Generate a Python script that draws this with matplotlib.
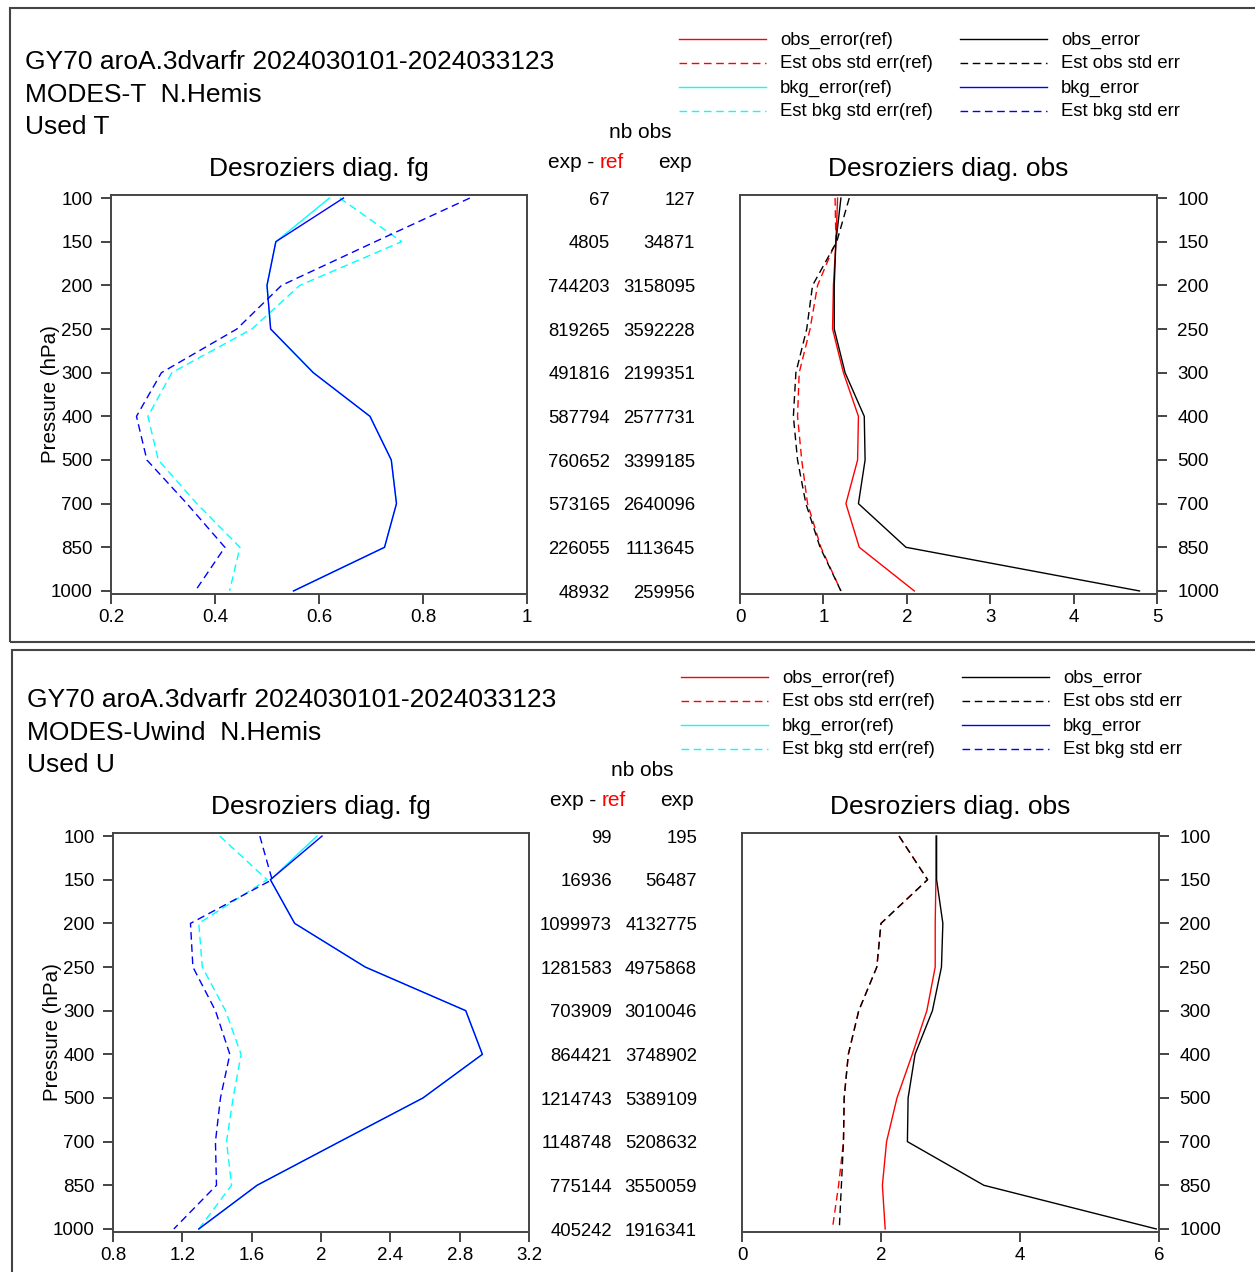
import matplotlib.pyplot as plt
from matplotlib.lines import Line2D
from matplotlib.patches import Rectangle
from matplotlib.transforms import blended_transform_factory

plt.rcParams['font.family'] = ['Liberation Sans', 'DejaVu Sans']

W, H = 1255, 1272
levels = [100, 150, 200, 250, 300, 400, 500, 700, 850, 1000]

# ---- MODES-T (temperature) ----
t_bkg_err_ref = [0.620, 0.517, 0.500, 0.507, 0.589, 0.698, 0.739, 0.749, 0.726, 0.551]
t_bkg_err = [0.647, 0.517, 0.500, 0.507, 0.589, 0.698, 0.739, 0.749, 0.726, 0.551]
t_est_bkg_ref = [0.640, 0.759, 0.563, 0.471, 0.317, 0.271, 0.291, 0.365, 0.448, 0.428]
t_est_bkg = [0.890, 0.708, 0.528, 0.442, 0.297, 0.249, 0.269, 0.346, 0.419, 0.362]
t_obs_err_ref = [1.17, 1.15, 1.12, 1.11, 1.24, 1.42, 1.41, 1.27, 1.43, 2.09]
t_obs_err = [1.21, 1.15, 1.13, 1.13, 1.26, 1.49, 1.50, 1.42, 1.99, 4.79]
t_est_obs_ref = [1.14, 1.15, 0.93, 0.84, 0.71, 0.69, 0.74, 0.81, 0.97, 1.21]
t_est_obs = [1.31, 1.16, 0.87, 0.80, 0.67, 0.64, 0.69, 0.79, 0.96, 1.21]
t_nb_diff = [67, 4805, 744203, 819265, 491816, 587794, 760652, 573165, 226055, 48932]
t_nb_exp = [127, 34871, 3158095, 3592228, 2199351, 2577731, 3399185, 2640096, 1113645, 259956]

# ---- MODES-Uwind ----
u_bkg_err_ref = [1.977, 1.708, 1.848, 2.255, 2.835, 2.931, 2.588, 2.108, 1.631, 1.295]
u_bkg_err = [2.006, 1.708, 1.848, 2.255, 2.835, 2.931, 2.588, 2.108, 1.631, 1.295]
u_est_bkg_ref = [1.416, 1.689, 1.295, 1.315, 1.449, 1.539, 1.493, 1.455, 1.484, 1.295]
u_est_bkg = [1.647, 1.718, 1.247, 1.261, 1.391, 1.474, 1.420, 1.391, 1.397, 1.151]
u_obs_err_ref = [2.79, 2.79, 2.78, 2.78, 2.66, 2.45, 2.23, 2.08, 2.02, 2.06]
u_obs_err = [2.80, 2.80, 2.89, 2.87, 2.74, 2.49, 2.39, 2.38, 3.48, 5.96]
u_est_obs_ref = [2.26, 2.67, 2.00, 1.94, 1.68, 1.53, 1.47, 1.46, 1.39, 1.30]
u_est_obs = [2.26, 2.67, 2.00, 1.94, 1.68, 1.53, 1.47, 1.46, 1.43, 1.40]
u_nb_diff = [99, 16936, 1099973, 1281583, 703909, 864421, 1214743, 1148748, 775144, 405242]
u_nb_exp = [195, 56487, 4132775, 4975868, 3010046, 3748902, 5389109, 5208632, 3550059, 1916341]

legend_labels = ['obs_error(ref)', 'Est obs std err(ref)', 'bkg_error(ref)', 'Est bkg std err(ref)',
                 'obs_error', 'Est obs std err', 'bkg_error', 'Est bkg std err']
legend_colors = ['red', 'red', 'cyan', 'cyan', 'black', 'black', 'blue', 'blue']
legend_styles = ['-', '--', '-', '--', '-', '--', '-', '--']

DASH = (5.5, 3.3)
SPINE = '#444444'

panels = [
    dict(dy=0, dx=0, name='MODES-T  N.Hemis', used='Used T',
         fg=(t_bkg_err_ref, t_bkg_err, t_est_bkg_ref, t_est_bkg),
         obs=(t_obs_err_ref, t_obs_err, t_est_obs_ref, t_est_obs),
         fg_lim=(0.2, 1.0), fg_ticks=[0.2, 0.4, 0.6, 0.8, 1.0], fg_lbl=['0.2', '0.4', '0.6', '0.8', '1'],
         obs_lim=(0, 5), obs_ticks=[0, 1, 2, 3, 4, 5],
         nb=(t_nb_diff, t_nb_exp)),
    dict(dy=638, dx=2, name='MODES-Uwind  N.Hemis', used='Used U',
         fg=(u_bkg_err_ref, u_bkg_err, u_est_bkg_ref, u_est_bkg),
         obs=(u_obs_err_ref, u_obs_err, u_est_obs_ref, u_est_obs),
         fg_lim=(0.8, 3.2), fg_ticks=[0.8, 1.2, 1.6, 2.0, 2.4, 2.8, 3.2],
         fg_lbl=['0.8', '1.2', '1.6', '2', '2.4', '2.8', '3.2'],
         obs_lim=(0, 6), obs_ticks=[0, 2, 4, 6],
         nb=(u_nb_diff, u_nb_exp)),
]

fig = plt.figure(figsize=(W / 100, H / 100), dpi=100)


def fx(x):
    return x / W


def fy(y):
    return 1 - y / H


def new_axes(x, y, w, h):
    return fig.add_axes([fx(x), fy(y + h), w / W, h / H])


def style_axes(ax, side):
    ax.set_ylim(len(levels) - 1 + 0.07, -0.07)
    ax.set_yticks(range(len(levels)))
    ax.set_yticklabels([str(l) for l in levels])
    for s in ax.spines.values():
        s.set_color(SPINE)
        s.set_linewidth(1.4)
    ax.tick_params(direction='out', length=7.5, width=1.4, color=SPINE, labelsize=13.5, pad=3)
    if side == 'right':
        ax.yaxis.tick_right()
        ax.tick_params(axis='y', pad=7)
    else:
        ax.tick_params(axis='y', pad=5.5)


ypos = list(range(len(levels)))

for p in panels:
    dy, dx = p['dy'], p['dx']
    # panel frame
    fig.add_artist(Rectangle((fx(10 + dx), fy(642 + dy)), (1260 - 10 - dx) / W, (634 if dy == 0 else 630) / H,
                             transform=fig.transFigure, fill=False, ec=SPINE, lw=1.5))

    # header text
    fig.text(fx(25 + dx), fy(62 + dy), 'GY70 aroA.3dvarfr 2024030101-2024033123', fontsize=19, va='center')
    fig.text(fx(25 + dx), fy(95 + dy), p['name'], fontsize=19, va='center')
    fig.text(fx(25 + dx), fy(127 + dy), p['used'], fontsize=19, va='center')

    # legend
    for i, (lab, c, ls) in enumerate(zip(legend_labels, legend_colors, legend_styles)):
        col, row = divmod(i, 4)
        x0 = 679 + dx + col * 281
        yy = 40 + dy + row * 24
        ln = Line2D([fx(x0), fx(x0 + 87)], [fy(yy - 1), fy(yy - 1)], transform=fig.transFigure,
                    color=c, lw=1.0, ls=ls)
        if ls == '--':
            ln.set_dashes(DASH)
        fig.add_artist(ln)
        fig.text(fx(x0 + 101), fy(yy), lab, fontsize=13.3, va='center')

    # left: fg
    ax1 = new_axes(111 + dx, 195 + dy, 416, 399)
    bref, bexp, eref, eexp = p['fg']
    ax1.plot(bref, ypos, color='cyan', lw=1.0)
    ax1.plot(eref, ypos, color='cyan', lw=1.0, dashes=DASH)
    ax1.plot(bexp, ypos, color='blue', lw=1.0)
    ax1.plot(eexp, ypos, color='blue', lw=1.0, dashes=DASH)
    ax1.set_xlim(*p['fg_lim'])
    ax1.set_xticks(p['fg_ticks'])
    ax1.set_xticklabels(p['fg_lbl'])
    style_axes(ax1, 'left')
    ax1.set_ylabel('Pressure (hPa)', fontsize=14.8, labelpad=-6.5)
    ax1.set_title('Desroziers diag. fg', fontsize=19, pad=14)

    # right: obs
    ax2 = new_axes(740 + dx, 195 + dy, 417, 399)
    oref, oexp, sref, sexp = p['obs']
    ax2.plot(oref, ypos, color='red', lw=1.0)
    ax2.plot(sref, ypos, color='red', lw=1.0, dashes=DASH)
    ax2.plot(oexp, ypos, color='black', lw=1.0)
    ax2.plot(sexp, ypos, color='black', lw=1.0, dashes=DASH)
    ax2.set_xlim(*p['obs_lim'])
    ax2.set_xticks(p['obs_ticks'])
    style_axes(ax2, 'right')
    ax2.set_title('Desroziers diag. obs', fontsize=19, pad=14)

    # nb obs columns
    tr = blended_transform_factory(fig.transFigure, ax1.transData)
    nb_diff, nb_exp = p['nb']
    for k in range(len(levels)):
        for xr, val in ((610 + dx, nb_diff[k]), (695 + dx, nb_exp[k])):
            ax1.annotate(str(val), xy=(fx(xr), k), xycoords=tr, xytext=(0, -1.5),
                         textcoords='offset points', ha='right', va='center', fontsize=13.3,
                         annotation_clip=False)
    fig.text(fx(640 + dx), fy(133 + dy), 'nb obs', fontsize=15, ha='center', va='center')
    fig.text(fx(548 + dx), fy(162 + dy), 'exp - ', fontsize=15, va='center')
    fig.text(fx(600 + dx), fy(162 + dy), 'ref', fontsize=15, va='center', color='red')
    fig.text(fx(658 + dx), fy(162 + dy), 'exp', fontsize=15, va='center')

fig.savefig('out.png', dpi=100)
